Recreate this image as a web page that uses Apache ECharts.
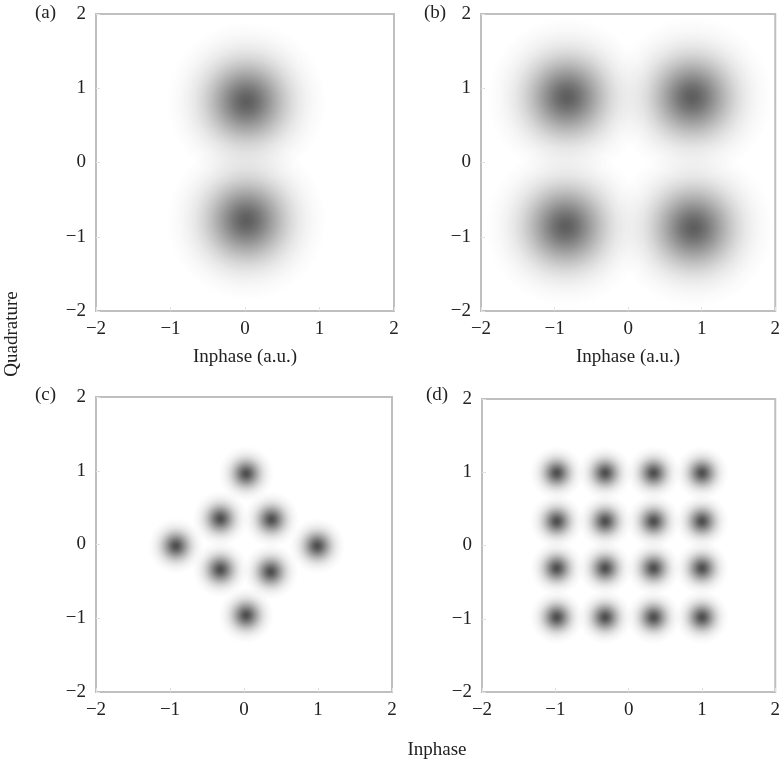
<!DOCTYPE html>
<html>
<head>
<meta charset="utf-8">
<script src="https://cdn.jsdelivr.net/npm/echarts@6/dist/echarts.min.js"></script>
<style>
  html, body { margin: 0; padding: 0; background: #fff; }
  #chart { width: 783px; height: 765px; }
</style>
</head>
<body>
<div id="chart"></div>
<script>
// Axis ticks shared by all four constellation panels
const axisTicks = [-2, -1, 0, 1, 2];

// Symbol centres (inphase, quadrature) of each constellation
const bpskPoints = [[0.02, 0.82], [0.02, -0.78]];
const qpskPoints = [[-0.83, 0.88], [0.87, 0.88], [-0.85, -0.86], [0.89, -0.88]];
const psk8Points = [
  [0.03, 0.96], [-0.32, 0.35], [0.37, 0.34], [-0.92, -0.02],
  [0.99, -0.02], [-0.32, -0.34], [0.36, -0.37], [0.03, -0.96]
];
const qam16Points = [
  [-0.98, 0.99], [-0.32, 0.99], [0.34, 0.99], [1.0, 0.99],
  [-0.98, 0.33], [-0.32, 0.33], [0.34, 0.33], [1.0, 0.33],
  [-0.98, -0.31], [-0.32, -0.31], [0.34, -0.31], [1.0, -0.31],
  [-0.98, -0.98], [-0.32, -0.98], [0.34, -0.98], [1.0, -0.98]
];

const panelLabels = ['(a)', '(b)', '(c)', '(d)'];

const SERIF = '"Liberation Serif", "DejaVu Serif", serif';
const FONT_SIZE = 19;
const fmt = v => (v < 0 ? '\u2212' + Math.abs(v) : String(v));

// Soft gaussian-like cloud drawn as a radial gradient
const falloff = [
  [0.0, 1.0], [0.08, 0.95], [0.16, 0.85], [0.25, 0.70], [0.35, 0.53],
  [0.45, 0.37], [0.55, 0.24], [0.65, 0.14], [0.75, 0.075], [0.85, 0.035], [1.0, 0]
];
function cloud(rgb, peak) {
  return {
    type: 'radial', x: 0.5, y: 0.5, r: 0.5,
    colorStops: falloff.map(([o, a]) => ({
      offset: o, color: 'rgba(' + rgb + ',' + (a * peak).toFixed(3) + ')'
    }))
  };
}

const grids = [
  { left: 96, top: 14, width: 298, height: 297 },
  { left: 481, top: 14, width: 296, height: 297 },
  { left: 96, top: 397, width: 296, height: 295 },
  { left: 482, top: 399, width: 295, height: 293 }
].map(g => Object.assign({
  show: true, borderColor: '#bfbfbf', borderWidth: 2, backgroundColor: '#fff'
}, g));

function axis(i, dim) {
  return {
    type: 'value', gridIndex: i, min: -2, max: 2, interval: 1,
    axisLine: { show: false, onZero: false },
    axisTick: { show: true, inside: true, length: 4, lineStyle: { color: '#e2e2e2' } },
    splitLine: { show: false },
    axisLabel: {
      formatter: fmt, color: '#222', fontFamily: SERIF, fontSize: FONT_SIZE,
      margin: dim === 'x' ? 9 : 10
    }
  };
}

const sets = [
  { data: bpskPoints, size: 160, rgb: '35,35,35', peak: 0.92 },
  { data: qpskPoints, size: 160, rgb: '35,35,35', peak: 0.92 },
  { data: psk8Points, size: 56, rgb: '25,25,25', peak: 0.97 },
  { data: qam16Points, size: 54, rgb: '25,25,25', peak: 0.97 }
];

const series = sets.map((s, i) => ({
  type: 'scatter', xAxisIndex: i, yAxisIndex: i,
  data: s.data, symbol: 'circle', symbolSize: s.size,
  itemStyle: { color: cloud(s.rgb, s.peak) },
  silent: true, animation: false, clip: true,
  emphasis: { disabled: true }
}));

const textStyle = (t, extra) => Object.assign({
  text: t, fill: '#222', font: FONT_SIZE + 'px ' + SERIF
}, extra);

const graphic = [
  { type: 'text', left: 35, top: 4, style: textStyle(panelLabels[0]) },
  { type: 'text', left: 424, top: 4, style: textStyle(panelLabels[1]) },
  { type: 'text', left: 35, top: 386, style: textStyle(panelLabels[2]) },
  { type: 'text', left: 426, top: 386, style: textStyle(panelLabels[3]) },
  { type: 'text', x: 245, y: 357, style: textStyle('Inphase (a.u.)', { align: 'center', verticalAlign: 'middle' }) },
  { type: 'text', x: 628, y: 357, style: textStyle('Inphase (a.u.)', { align: 'center', verticalAlign: 'middle' }) },
  { type: 'text', x: 437, y: 750, style: textStyle('Inphase', { align: 'center', verticalAlign: 'middle' }) },
  { type: 'text', x: 12, y: 334, rotation: Math.PI / 2, style: textStyle('Quadrature', { align: 'center', verticalAlign: 'middle' }) }
];

const chart = echarts.init(document.getElementById('chart'), null, { renderer: 'canvas' });
chart.setOption({
  animation: false,
  backgroundColor: '#fff',
  grid: grids,
  xAxis: grids.map((_, i) => axis(i, 'x')),
  yAxis: grids.map((_, i) => axis(i, 'y')),
  series: series,
  graphic: graphic
});
</script>
</body>
</html>
